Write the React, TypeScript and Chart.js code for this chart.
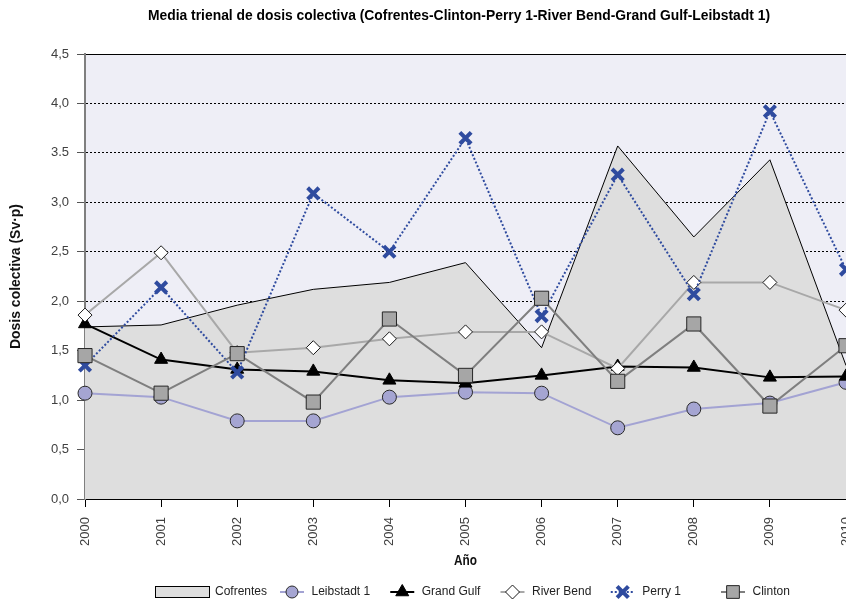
import React, { useEffect, useRef } from 'react';
import { Chart, registerables } from 'chart.js';
import { drawPoint } from 'chart.js/helpers';

Chart.register(...registerables);

// ---------- data ----------
const years = ['2000', '2001', '2002', '2003', '2004', '2005', '2006', '2007', '2008', '2009', '2010'];
const cofrentes = [1.74, 1.76, 1.96, 2.12, 2.19, 2.39, 1.53, 3.57, 2.65, 3.43, 1.35];
const leibstadt = [1.07, 1.03, 0.79, 0.79, 1.03, 1.08, 1.07, 0.72, 0.91, 0.97, 1.18];
const grandGulf = [1.77, 1.41, 1.31, 1.29, 1.2, 1.17, 1.25, 1.34, 1.33, 1.23, 1.24];
const riverBend = [1.86, 2.49, 1.48, 1.53, 1.62, 1.69, 1.69, 1.32, 2.19, 2.19, 1.91];
const perry = [1.35, 2.14, 1.28, 3.09, 2.5, 3.65, 1.85, 3.28, 2.07, 3.92, 2.32];
const clinton = [1.45, 1.07, 1.47, 0.98, 1.82, 1.25, 2.03, 1.19, 1.77, 0.94, 1.55];
const yTickLabels = ['0,0', '0,5', '1,0', '1,5', '2,0', '2,5', '3,0', '3.5', '4,0', '4,5'];
const seriesNames = ['Cofrentes', 'Leibstadt 1', 'Grand Gulf', 'River Bend', 'Perry 1', 'Clinton'];
const chartTitle = 'Media trienal de dosis colectiva (Cofrentes-Clinton-Perry 1-River Bend-Grand Gulf-Leibstadt 1)';
const yAxisTitle = 'Dosis colectiva (Sv·p)';
const xAxisTitle = 'Año';

// ---------- styles ----------
const SANS = '"Liberation Sans", Arial, sans-serif';
const PLOT_BG = '#EEEEF6';
const AREA_BG = '#DEDEDE';
const CANVAS_W = 858; // right part is clipped by the 846px frame, like the reference
const CANVAS_H = 603;

type LineStyle = {
  line: string; lw: number; dash: number[];
  pointStyle: string; radius: number; legendRadius: number;
  fill: string; border: string; bw: number;
};

const lineStyles: LineStyle[] = [
  { line: '#A3A3D3', lw: 2, dash: [], pointStyle: 'circle', radius: 7, legendRadius: 6, fill: '#A5A5D2', border: '#2A2A2A', bw: 1 },
  { line: '#000000', lw: 2, dash: [], pointStyle: 'triangle', radius: 7.5, legendRadius: 7.5, fill: '#000000', border: '#000000', bw: 1 },
  { line: '#A8A8A8', lw: 2, dash: [], pointStyle: 'rectRot', radius: 7, legendRadius: 7, fill: '#FFFFFF', border: '#1A1A1A', bw: 1 },
  { line: '#2F4B9F', lw: 2, dash: [2, 2], pointStyle: 'crossRot', radius: 8, legendRadius: 8, fill: '#2F4B9F', border: '#2F4B9F', bw: 4 },
  { line: '#7F7F7F', lw: 2, dash: [], pointStyle: 'rect', radius: 10, legendRadius: 9, fill: '#A6A6A6', border: '#262626', bw: 1 },
];

const lineData = [leibstadt, grandGulf, riverBend, perry, clinton];

function drawFitted(ctx: CanvasRenderingContext2D, text: string, x: number, y: number, targetW: number, font: string, vertical = false) {
  ctx.save();
  ctx.font = font;
  const w = ctx.measureText(text).width;
  const sx = Math.min(1.1, targetW / w);
  ctx.translate(x, y);
  if (vertical) ctx.rotate(-Math.PI / 2);
  ctx.scale(sx, 1);
  ctx.textAlign = 'center';
  ctx.textBaseline = 'middle';
  ctx.fillText(text, 0, 0);
  ctx.restore();
}

const bgPlugin = {
  id: 'plotBg',
  beforeDraw(chart: any) {
    const { ctx, chartArea } = chart;
    ctx.save();
    ctx.fillStyle = PLOT_BG;
    ctx.fillRect(chartArea.left, chartArea.top, chartArea.right - chartArea.left, chartArea.bottom - chartArea.top);
    ctx.restore();
  },
};

const titleLegendPlugin = {
  id: 'titleLegend',
  afterDraw(chart: any) {
    const { ctx, chartArea } = chart;
    ctx.save();
    ctx.fillStyle = '#000';
    // chart title
    drawFitted(ctx, chartTitle, 459, 16, 622, `bold 15px ${SANS}`);
    // axis titles
    ctx.fillStyle = '#111';
    drawFitted(ctx, yAxisTitle, 16.5, (chartArea.top + chartArea.bottom) / 2, 145, `bold 14px ${SANS}`, true);
    drawFitted(ctx, xAxisTitle, (chartArea.left + chartArea.right) / 2, 561, 23, `bold 14px ${SANS}`);

    // legend
    const ly = 592;
    ctx.font = `12px ${SANS}`;
    ctx.textAlign = 'left';
    ctx.textBaseline = 'middle';
    ctx.fillStyle = AREA_BG;
    ctx.fillRect(155.5, 586.5, 54, 11);
    ctx.strokeStyle = '#000';
    ctx.lineWidth = 1;
    ctx.strokeRect(155.5, 586.5, 54, 11);
    ctx.fillStyle = '#222';
    ctx.fillText(seriesNames[0], 215, ly);

    lineStyles.forEach((s, i) => {
      const cx = 292 + 110.25 * i;
      ctx.save();
      ctx.strokeStyle = s.line;
      ctx.lineWidth = s.lw;
      ctx.setLineDash(s.dash);
      ctx.beginPath();
      ctx.moveTo(cx - 12, ly);
      ctx.lineTo(cx + 12, ly);
      ctx.stroke();
      ctx.restore();
      ctx.save();
      ctx.fillStyle = s.fill;
      ctx.strokeStyle = s.border;
      ctx.lineWidth = s.bw;
      drawPoint(ctx, { pointStyle: s.pointStyle as any, rotation: 0, radius: s.legendRadius, borderWidth: s.bw }, cx, ly);
      ctx.restore();
      ctx.fillStyle = '#222';
      ctx.fillText(seriesNames[i + 1], cx + 19.5, ly);
    });
    ctx.restore();
  },
};

export default function App() {
  const canvasRef = useRef<HTMLCanvasElement | null>(null);

  useEffect(() => {
    if (!canvasRef.current) return;
    const datasets: any[] = [
      {
        label: seriesNames[0],
        data: cofrentes,
        fill: 'origin',
        backgroundColor: AREA_BG,
        borderColor: '#000',
        borderWidth: 1,
        pointRadius: 0,
        tension: 0,
        order: 5,
        clip: false,
      },
      ...lineStyles.map((s, i) => ({
        label: seriesNames[i + 1],
        data: lineData[i],
        fill: false,
        borderColor: s.line,
        borderWidth: s.lw,
        borderDash: s.dash,
        pointStyle: s.pointStyle,
        pointRadius: s.radius,
        pointHoverRadius: s.radius,
        pointBackgroundColor: s.fill,
        pointBorderColor: s.border,
        pointBorderWidth: s.bw,
        tension: 0,
        order: 4 - i,
        clip: false,
      })),
    ];

    const chart = new Chart(canvasRef.current, {
      type: 'line',
      data: { labels: years, datasets },
      plugins: [bgPlugin, titleLegendPlugin],
      options: {
        animation: false,
        responsive: false,
        maintainAspectRatio: false,
        layout: { padding: { top: 54, left: 0, right: 0, bottom: 0 } },
        plugins: { legend: { display: false }, title: { display: false }, tooltip: { enabled: false } },
        scales: {
          x: {
            type: 'category',
            offset: false,
            grid: { drawOnChartArea: false, drawTicks: true, tickLength: 8, tickColor: '#000', tickWidth: 1 },
            border: { display: true, color: '#000', width: 2 },
            ticks: {
              autoSkip: false,
              minRotation: 90,
              maxRotation: 90,
              padding: 10,
              color: '#404040',
              font: { family: SANS, size: 13 },
            },
            afterFit: (scale: any) => {
              scale.height = 104;
              scale.paddingLeft = 0;
              scale.paddingRight = 0;
            },
          },
          y: {
            min: 0,
            max: 4.5,
            ticks: {
              stepSize: 0.5,
              padding: 8,
              color: '#404040',
              font: { family: SANS, size: 13 },
              callback: (v: any) => yTickLabels[Math.round(Number(v) / 0.5)] ?? String(v),
            },
            grid: {
              color: '#000',
              lineWidth: 1,
              drawTicks: true,
              tickLength: 8,
              tickColor: '#555',
              tickWidth: 1,
            },
            border: {
              display: true,
              color: '#7F7F7F',
              width: 2,
              dash: (ctx: any) => (ctx.tick && ctx.tick.value >= 4.5 ? [] : [2, 2]),
            },
            afterFit: (scale: any) => {
              scale.width = 85;
            },
          },
        },
      } as any,
    });
    return () => chart.destroy();
  }, []);

  return (
    <div style={{ position: 'absolute', left: 0, top: 0, width: 846, height: 603, overflow: 'hidden', background: '#fff' }}>
      <canvas ref={canvasRef} width={CANVAS_W} height={CANVAS_H} style={{ width: CANVAS_W, height: CANVAS_H, display: 'block' }} />
    </div>
  );
}
